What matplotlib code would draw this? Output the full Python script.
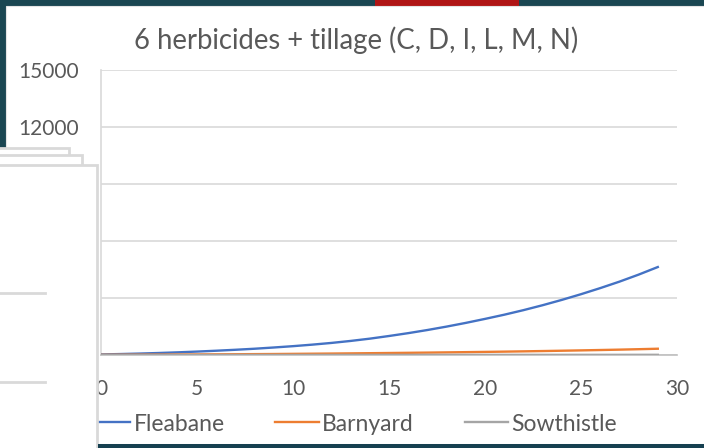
import matplotlib.pyplot as plt
from matplotlib.patches import Rectangle
from matplotlib.lines import Line2D

# valores (anio 0..29)
years = list(range(30))
fleabane = [30, 50, 75, 105, 140, 180, 225, 275, 330, 395,
            465, 545, 635, 740, 860, 1000, 1150, 1315, 1495, 1690,
            1900, 2120, 2360, 2620, 2900, 3200, 3520, 3860, 4230, 4630]
barnyard = [10, 14, 18, 22, 26, 30, 35, 40, 46, 52,
            60, 68, 76, 85, 95, 105, 115, 126, 138, 150,
            163, 177, 192, 208, 225, 243, 262, 282, 305, 330]
sowthistle = [2, 2, 2, 3, 3, 3, 3, 4, 4, 4,
              4, 5, 5, 5, 5, 6, 6, 6, 6, 7,
              7, 7, 8, 8, 8, 9, 9, 9, 10, 10]

series_names = ["Fleabane", "Barnyard", "Sowthistle"]
series_colors = ["#4472C4", "#ED7D31", "#A5A5A5"]
title = "6 herbicides + tillage (C, D, I, L, M, N)"
yticks = [0, 3000, 6000, 9000, 12000, 15000]
xticks = [0, 5, 10, 15, 20, 25, 30]

W, H = 704, 448
plt.rcParams["font.family"] = ["Lato", "DejaVu Sans"]
text_color = "#595959"
grid_color = "#D9D9D9"

fig = plt.figure(figsize=(W / 100, H / 100), dpi=100, facecolor="#1A4652")


def px_rect(x0, y0, x1, y1, **kw):
    # rectangulo en pixeles (origen arriba a la izquierda)
    r = Rectangle((x0 / W, 1 - y1 / H), (x1 - x0) / W, (y1 - y0) / H,
                  transform=fig.transFigure, **kw)
    fig.patches.append(r)
    return r


def px_hline(x0, x1, y, color, lw=2, z=10):
    fig.add_artist(Line2D([x0 / W, x1 / W], [1 - y / H, 1 - y / H],
                          transform=fig.transFigure, color=color, lw=lw, zorder=z))


# marco de la diapositiva
px_rect(375, 0, 519, 6, facecolor="#B01515", edgecolor="none", zorder=-2)
px_rect(6, 6, W + 5, 444, facecolor="white", edgecolor="#E4E4E4", lw=0.8, zorder=-1)

ax = fig.add_axes([101 / W, 93 / H, 576 / W, 285 / H])
ax.set_facecolor("white")
for name, vals, col in zip(series_names, [fleabane, barnyard, sowthistle], series_colors):
    ax.plot(years, vals, color=col, lw=1.7, label=name, zorder=3)

ax.set_xlim(0, 30)
ax.set_ylim(0, 15000)
ax.set_xticks(xticks)
ax.set_yticks(yticks)
ax.set_xticklabels([str(v) for v in xticks])
ax.set_yticklabels([str(v) for v in yticks])
ax.tick_params(length=0, labelsize=15, labelcolor=text_color)
ax.tick_params(axis="y", pad=16)
ax.tick_params(axis="x", pad=17)
ax.grid(axis="y", color=grid_color, lw=1.2)
ax.set_axisbelow(True)
for s in ["top", "right"]:
    ax.spines[s].set_visible(False)
ax.spines["bottom"].set_color("#BFBFBF")
ax.spines["bottom"].set_linewidth(1.2)
ax.spines["left"].set_color(grid_color)
ax.spines["left"].set_linewidth(1.2)

fig.text(356 / W, 1 - 40 / H, title, ha="center", va="center",
         fontsize=19.8, color=text_color)

fig.legend(loc="center", bbox_to_anchor=(352 / W, 1 - 424 / H), ncol=3,
           frameon=False, fontsize=16.5, labelcolor=text_color,
           handlelength=1.9, handletextpad=0.15, columnspacing=2.2)

# tarjetas superpuestas a la izquierda
px_rect(-10, 148, 69, 460, facecolor="white", edgecolor=grid_color, lw=2, zorder=20)
px_rect(-10, 155, 82, 460, facecolor="white", edgecolor=grid_color, lw=2, zorder=21)
px_rect(-10, 165, 97, 460, facecolor="white", edgecolor=grid_color, lw=2, zorder=22)
px_hline(0, 45, 293, grid_color, lw=2, z=23)
px_hline(0, 45, 382, grid_color, lw=2, z=23)

# banda inferior
px_rect(98, 444, W + 5, H + 5, facecolor="#164050", edgecolor="none", zorder=24)

fig.savefig("out.png", dpi=100, facecolor=fig.get_facecolor())
